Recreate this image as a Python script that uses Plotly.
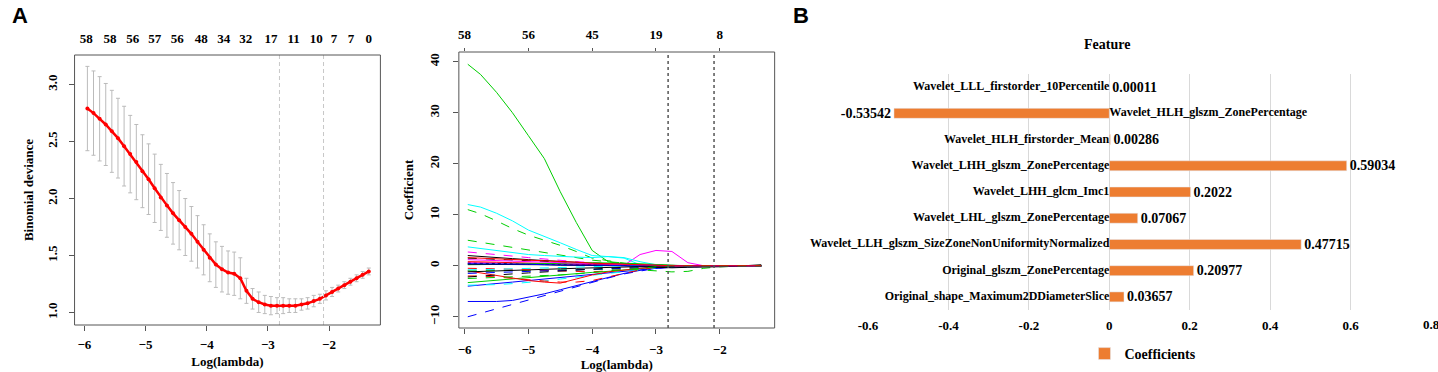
import plotly.graph_objects as go

# ---------------- Panel A (left): CV binomial deviance ----------------
log_lambda = [-5.95, -5.85, -5.75, -5.65, -5.55, -5.45, -5.35, -5.25, -5.15, -5.05,
              -4.95, -4.85, -4.75, -4.65, -4.55, -4.45, -4.35, -4.25, -4.15, -4.05,
              -3.95, -3.85, -3.75, -3.65, -3.55, -3.45, -3.35, -3.25, -3.15, -3.05,
              -2.95, -2.85, -2.75, -2.65, -2.55, -2.45, -2.35, -2.25, -2.15, -2.05,
              -1.95, -1.85, -1.75, -1.65, -1.55, -1.45, -1.35]
deviance = [2.79, 2.75, 2.70, 2.65, 2.59, 2.53, 2.46, 2.39, 2.32, 2.24,
            2.17, 2.09, 2.01, 1.94, 1.87, 1.81, 1.75, 1.69, 1.62, 1.55,
            1.48, 1.42, 1.38, 1.35, 1.34, 1.30, 1.19, 1.12, 1.09, 1.07,
            1.06, 1.06, 1.06, 1.06, 1.06, 1.07, 1.08, 1.10, 1.12, 1.15,
            1.18, 1.21, 1.24, 1.27, 1.30, 1.33, 1.36]
deviance_se = [0.37, 0.37, 0.37, 0.36, 0.36, 0.35, 0.35, 0.34, 0.33, 0.32,
               0.31, 0.30, 0.29, 0.28, 0.27, 0.26, 0.25, 0.24, 0.23, 0.22,
               0.21, 0.20, 0.20, 0.19, 0.19, 0.18, 0.11, 0.09, 0.09, 0.08,
               0.08, 0.07, 0.07, 0.06, 0.06, 0.05, 0.05, 0.05, 0.04, 0.04,
               0.04, 0.03, 0.03, 0.03, 0.03, 0.03, 0.03]
cv_top_pos = [-5.97, -5.58, -5.21, -4.85, -4.48, -4.09, -3.72, -3.36, -2.95, -2.58,
              -2.21, -1.92, -1.64, -1.35]
cv_top_labels = ["58", "58", "56", "57", "56", "48", "34", "32", "17", "11", "10", "7", "7", "0"]
lambda_min = -2.81
lambda_1se = -2.09

# ---------------- Panel A (right): coefficient paths ----------------
path_knots = [-5.95, -5.75, -5.5, -5.25, -5.0, -4.75, -4.5, -4.25, -4.0, -3.75,
              -3.5, -3.25, -3.0, -2.75, -2.5, -2.25, -2.0, -1.75, -1.5, -1.35]
p01 = [39.5, 37.5, 34, 30, 25.5, 21, 14.5, 8.5, 3, 0.8, 0.3, 0, 0, 0, 0, 0, 0, 0, 0, 0]
p02 = [12, 11.5, 10.3, 8.8, 7, 5.8, 4.5, 3.2, 2, 1.8, 1.5, 0.2, 0, 0, 0, 0, 0, 0, 0, 0]
p03 = [11, 10.2, 8.8, 7.3, 6, 5, 4, 2.8, 1.5, 1, 0.5, 0.2, 0, 0, 0, 0, 0, 0, 0, 0]
p04 = [5, 4.6, 4.1, 3.6, 3.1, 2.6, 2.1, 1.6, 1.1, 0.8, 0.5, 0.2, 0, 0, 0, 0, 0, 0, 0, 0]
p05 = [0.6, 0.6, 0.5, 0.5, 0.4, 0.4, 0.3, 0.3, 0.2, 0.1, 0.1, 2.2, 3, 2.8, 0.6, 0, 0, 0, 0, 0]
p06 = [-7, -7, -7, -6.8, -6.2, -5.5, -4.7, -3.9, -3.1, -2.3, -1.5, -0.9, -0.5, -0.3, -0.2, -0.1, 0, 0, 0, 0]
p07 = [-10, -9.3, -8.5, -7.6, -6.8, -5.9, -5, -4.1, -3.3, -2.4, -1.6, -1, -0.5, -0.3, -0.2, -0.1, 0, 0, 0, 0]
p08 = [-4, -3.8, -3.5, -3.2, -2.9, -2.6, -2.3, -2, -1.7, -1.3, -1, -0.7, -0.4, -0.2, -0.1, 0, 0, 0, 0, 0]
p09 = [-3.8, -3.8, -3.7, -3.5, -3.3, -3, -2.6, -2.2, -1.8, -1.5, -1.2, -0.8, -0.4, -0.2, 0, 0, 0, 0, 0, 0]
p10 = [-3.3, -3.1, -2.8, -2.5, -2.2, -2, -1.7, -1.5, -1.3, -1.1, -0.8, -0.5, -0.3, -0.1, 0, 0, 0, 0, 0, 0]
p11 = [-1, -1.4, -1.9, -2.4, -2.9, -3.2, -3.4, -2.6, -1.8, -1.2, -0.8, -0.5, -0.3, -0.1, 0, 0, 0, 0, 0, 0]
p12 = [-2, -2, -2.2, -2.5, -2.8, -3, -3.2, -3.2, -2.9, -2.2, -1.5, -0.8, -0.3, 0, 0, 0, 0, 0, 0, 0]
p13 = [-1, -1, -1, -1, -0.9, -0.9, -0.8, -0.8, -0.7, -0.7, -0.6, -0.8, -1, -1.2, -1.1, -0.5, -0.2, -0.1, 0, 0]
p14 = [2.7, 2.5, 2.2, 1.9, 1.6, 1.3, 1, 0.8, 0.6, 0.5, 0.3, 0.2, 0, 0, 0, 0, 0, 0, 0, 0]
p15 = [3.7, 3.4, 3, 2.6, 2.2, 2, 1.8, 1.7, 1.6, 1.8, 1.6, 0.8, 0.2, 0, 0, 0, 0, 0, 0, 0]
p16 = [2, 1.8, 1.6, 1.4, 1.2, 1, 0.8, 0.6, 0.5, 0.4, 0.3, 0.2, 0.1, 0, 0, 0, 0, 0, 0, 0]
p17 = [1.5, 1.4, 1.3, 1.1, 1, 0.9, 0.8, 0.6, 0.4, 0.3, 0.2, 0.1, 0, 0, 0, 0, 0, 0, 0, 0]
p18 = [-1.2, -1.1, -1, -0.9, -0.8, -0.7, -0.6, -0.5, -0.4, -0.3, -0.2, -0.1, 0, 0, 0, 0, 0, 0, 0, 0]
p19 = [0.5, 0.5, 0.4, 0.4, 0.3, 0.3, 0.3, 0.2, 0.2, 0.1, 0.1, 0, 0, 0, 0, 0, 0, 0, 0, 0]
p20 = [0.8, 0.7, 0.7, 0.6, 0.5, 0.5, 0.4, 0.3, 0.3, 0.2, 0.1, 0, 0, 0, 0, 0, 0, 0, 0, 0]
p21 = [-0.5, -0.5, -0.6, -0.7, -0.8, -0.9, -1, -1.1, -1.2, -1, -0.7, -0.4, -0.2, 0, 0, 0, 0, 0, 0, 0]
p22 = [-1.5, -1.4, -1.3, -1.2, -1.1, -1, -0.9, -0.8, -0.7, -0.6, -0.5, -0.3, -0.2, -0.1, 0, 0, 0, 0, 0, 0]
p23 = [0.2, 0.2, 0.3, 0.3, 0.4, 0.4, 0.4, 0.5, 0.6, 0.6, 0.5, 0.4, 0.2, 0.1, 0, 0, 0, 0, 0, 0]
p24 = [0.3, 0.3, 0.2, 0.2, 0.2, 0.2, 0.1, 0.1, 0.1, 0, 0, -0.2, -0.3, -0.4, -0.3, -0.3, -0.2, -0.1, 0.1, 0.2]
p25 = [1.2, 1.1, 1, 0.9, 0.8, 0.7, 0.6, 0.5, 0.4, 0.3, 0.2, 0.1, 0, 0, 0, 0, 0, 0, 0, 0]
p26 = [-0.8, -0.8, -0.7, -0.6, -0.5, -0.5, -0.4, -0.3, -0.2, -0.1, 0, 0, 0, 0, 0, 0, 0, 0, 0, 0]
p27 = [0.4, 0.4, 0.3, 0.3, 0.3, 0.2, 0.2, 0.1, 0.1, 0.1, 0, 0, 0, 0, 0, 0, 0, 0, 0, 0]
p28 = [-2.2, -2, -1.8, -1.6, -1.4, -1.2, -1, -0.8, -0.6, -0.4, -0.3, -0.2, -0.1, 0, 0, 0, 0, 0, 0, 0]
p29 = [-2.5, -2.4, -2.3, -2.2, -2.1, -2, -1.8, -1.6, -1.3, -1.0, -0.7, -0.4, -0.2, 0, 0, 0, 0, 0, 0, 0]
p30 = [1.6, 1.5, 1.4, 1.3, 1.1, 1, 0.9, 0.7, 0.5, 0.4, 0.2, 0.1, 0, 0, 0, 0, 0, 0, 0, 0]
path_top_pos = [-6, -5, -4, -3, -2]
path_top_labels = ["58", "56", "45", "19", "8"]

# ---------------- Panel B: selected features ----------------
features = ["Wavelet_LLL_firstorder_10Percentile",
            "Wavelet_HLH_glszm_ZonePercentage",
            "Wavelet_HLH_firstorder_Mean",
            "Wavelet_LHH_glszm_ZonePercentage",
            "Wavelet_LHH_glcm_Imc1",
            "Wavelet_LHL_glszm_ZonePercentage",
            "Wavelet_LLH_glszm_SizeZoneNonUniformityNormalized",
            "Original_glszm_ZonePercentage",
            "Original_shape_Maximum2DDiameterSlice"]
coefficients = [0.00011, -0.53542, 0.00286, 0.59034, 0.2022, 0.07067, 0.47715, 0.20977, 0.03657]
coef_labels = ["0.00011", "-0.53542", "0.00286", "0.59034", "0.2022", "0.07067", "0.47715", "0.20977", "0.03657"]
bar_ticks = [-0.6, -0.4, -0.2, 0, 0.2, 0.4, 0.6, 0.8]
bar_tick_labels = ["-0.6", "-0.4", "-0.2", "0", "0.2", "0.4", "0.6", "0.8"]

# ---------------- styling ----------------
SERIF = "Liberation Serif"
BLACK = "#000000"; RED = "#FF0000"; GREEN = "#00CD00"; BLUE = "#0000FF"
CYAN = "#00FFFF"; MAGENTA = "#FF00FF"
path_styles = [
    (p01, GREEN, "solid"), (p02, CYAN, "solid"), (p03, GREEN, "dash"), (p04, GREEN, "dash"),
    (p05, MAGENTA, "solid"), (p06, BLUE, "solid"), (p07, BLUE, "dash"), (p08, BLUE, "solid"),
    (p09, CYAN, "dash"), (p10, GREEN, "solid"), (p11, RED, "solid"), (p12, RED, "dash"),
    (p13, GREEN, "dash"), (p14, MAGENTA, "dash"), (p15, CYAN, "solid"), (p16, BLACK, "solid"),
    (p17, BLACK, "dash"), (p18, BLACK, "solid"), (p19, BLACK, "dot"), (p20, RED, "solid"),
    (p21, RED, "dash"), (p22, BLUE, "dash"), (p23, GREEN, "solid"), (p24, BLACK, "solid"),
    (p25, MAGENTA, "solid"), (p26, CYAN, "dash"), (p27, BLUE, "solid"), (p28, BLACK, "dash"),
    (p29, GREEN, "dash"), (p30, RED, "solid"),
]

W, H = 1438, 372
def px_x(a, b):
    return [a / W, b / W]
def px_y(top, bottom):
    return [1 - bottom / H, 1 - top / H]

fig = go.Figure()

# Panel A left
fig.add_trace(go.Scatter(
    x=log_lambda, y=deviance, mode="lines+markers",
    line=dict(color="#FF0000", width=2.5), marker=dict(color="#FF0000", size=4),
    error_y=dict(type="data", array=deviance_se, color="#BBBBBB", thickness=1, width=2),
    xaxis="x", yaxis="y", showlegend=False))
fig.add_trace(go.Scatter(x=cv_top_pos, y=[None] * len(cv_top_pos), xaxis="x2", yaxis="y",
                         mode="markers", showlegend=False, hoverinfo="skip"))

# Panel A right
for vals, col, dash in path_styles:
    fig.add_trace(go.Scatter(x=path_knots, y=vals, mode="lines",
                             line=dict(color=col, width=1, dash=dash),
                             xaxis="x3", yaxis="y3", showlegend=False))
fig.add_trace(go.Scatter(x=path_top_pos, y=[None] * len(path_top_pos), xaxis="x4", yaxis="y3",
                         mode="markers", showlegend=False, hoverinfo="skip"))

# Panel B
fig.add_trace(go.Bar(
    x=coefficients, y=features, orientation="h", name="Coefficients",
    marker=dict(color="#ED7D31"), width=0.38,
    text=coef_labels, textposition="outside", cliponaxis=False, constraintext="none",
    textfont=dict(family=SERIF, size=14, color=BLACK, weight="bold"),
    xaxis="x5", yaxis="y5", showlegend=True))
fig.add_trace(go.Scatter(
    x=[0] * len(features), y=features, mode="text", text=features,
    textposition=["middle left" if v >= 0 else "middle right" for v in coefficients],
    textfont=dict(family=SERIF, size=12, color=BLACK, weight="bold"),
    xaxis="x5", yaxis="y5", showlegend=False, cliponaxis=False, hoverinfo="skip"))

# reference lines
fig.add_vline(x=lambda_min, line=dict(color="#C8C8C8", width=1, dash="4px,3px"), xref="x", yref="y")
fig.add_vline(x=lambda_1se, line=dict(color="#C8C8C8", width=1, dash="4px,3px"), xref="x", yref="y")
fig.add_vline(x=lambda_min, line=dict(color="#555555", width=1.5, dash="dot"), xref="x3", yref="y3")
fig.add_vline(x=lambda_1se, line=dict(color="#555555", width=1.5, dash="dot"), xref="x3", yref="y3")

# panel frames (R box)
for xr, yr in (("x", "y"), ("x3", "y3")):
    fig.add_shape(type="rect", xref=f"{xr} domain", yref=f"{yr} domain", x0=0, x1=1, y0=0, y1=1,
                  line=dict(color="#555555", width=1), fillcolor="rgba(0,0,0,0)", layer="above")

tickf = dict(family=SERIF, size=13, color=BLACK, weight="bold")
titlef = dict(family=SERIF, size=13, color=BLACK, weight="bold")
frame = dict(showline=False, showgrid=False, zeroline=False, ticks="outside", ticklen=5,
             tickcolor="#555555", tickfont=tickf)

annotations = [
    dict(text="A", x=10 / W, y=1 - 16 / H, xref="paper", yref="paper", showarrow=False,
         xanchor="center", yanchor="middle",
         font=dict(family="Liberation Sans", size=22, color=BLACK, weight="bold")),
    dict(text="B", x=797 / W, y=1 - 16 / H, xref="paper", yref="paper", showarrow=False,
         xanchor="center", yanchor="middle",
         font=dict(family="Liberation Sans", size=22, color=BLACK, weight="bold")),
    dict(text="Feature", x=1105 / W, y=1 - 44 / H, xref="paper", yref="paper", showarrow=False,
         xanchor="center", yanchor="middle",
         font=dict(family=SERIF, size=14, color=BLACK, weight="bold")),
    # last tick label of panel B sits on the page edge and is cut there
    dict(text=bar_tick_labels[-1], x=bar_ticks[-1], xref="x5", y=1 - 324 / H, yref="paper",
         showarrow=False, xanchor="center", yanchor="middle",
         font=dict(family=SERIF, size=13, color=BLACK, weight="bold")),
]

fig.update_layout(
    width=W, height=H, margin=dict(l=0, r=0, t=0, b=0), autosize=False,
    paper_bgcolor="white", plot_bgcolor="white",
    xaxis=dict(domain=px_x(65, 373), range=[-6.16, -1.16], tickvals=[-6, -5, -4, -3, -2],
               anchor="y", ticklabelstandoff=2,
               title=dict(text="Log(lambda)", font=titlef, standoff=6), **frame),
    xaxis2=dict(overlaying="x", side="top", anchor="y", range=[-6.16, -1.16],
                tickvals=cv_top_pos, ticktext=cv_top_labels, ticks="", showline=False,
                showgrid=False, zeroline=False, tickfont=tickf, ticklabelstandoff=8),
    yaxis=dict(domain=px_y(55, 325), range=[0.89, 3.26], tickvals=[1, 1.5, 2, 2.5, 3],
               ticktext=["1.0", "1.5", "2.0", "2.5", "3.0"], tickangle=-90, anchor="x",
               ticklabelstandoff=6,
               title=dict(text="Binomial deviance", font=titlef, standoff=8), **frame),
    xaxis3=dict(domain=px_x(452, 770), range=[-6.09, -1.14], tickvals=[-6, -5, -4, -3, -2],
                anchor="y3", ticklabelstandoff=4,
                title=dict(text="Log(lambda)", font=titlef, standoff=6), **frame),
    xaxis4=dict(overlaying="x3", side="top", anchor="y3", range=[-6.09, -1.14],
                tickvals=path_top_pos, ticktext=path_top_labels, ticks="outside", ticklen=3,
                tickcolor="#555555", showline=False, showgrid=False, zeroline=False, tickfont=tickf,
                ticklabelstandoff=4),
    yaxis3=dict(domain=px_y(52, 328), range=[-12.2, 41.9], tickvals=[-10, 0, 10, 20, 30, 40],
                tickangle=-90, anchor="x3", ticklabelstandoff=9,
                title=dict(text="Coefficient", font=titlef, standoff=10), **frame),
    xaxis5=dict(domain=px_x(864, 1431), range=[-0.6, 0.8], tickvals=bar_ticks[:-1],
                ticktext=bar_tick_labels[:-1],
                anchor="y5", showgrid=True, gridcolor="#D9D9D9", gridwidth=1, zeroline=False,
                showline=False, ticks="", ticklabelstandoff=6,
                tickfont=dict(family=SERIF, size=13, color=BLACK, weight="bold")),
    yaxis5=dict(domain=px_y(74, 310), anchor="x5", categoryorder="array",
                categoryarray=features[::-1], showticklabels=False, showgrid=False,
                zeroline=False, showline=False, range=[-0.5, 8.5]),
    legend=dict(orientation="h", x=1082 / W, y=1 - 354 / H, xanchor="left", yanchor="middle",
                font=dict(family=SERIF, size=14, color=BLACK, weight="bold"),
                bgcolor="rgba(0,0,0,0)"),
    annotations=annotations,
)

fig.write_html("out.html", config={"displayModeBar": False},
               post_script="document.body.style.margin='0';document.body.style.overflow='hidden';")
